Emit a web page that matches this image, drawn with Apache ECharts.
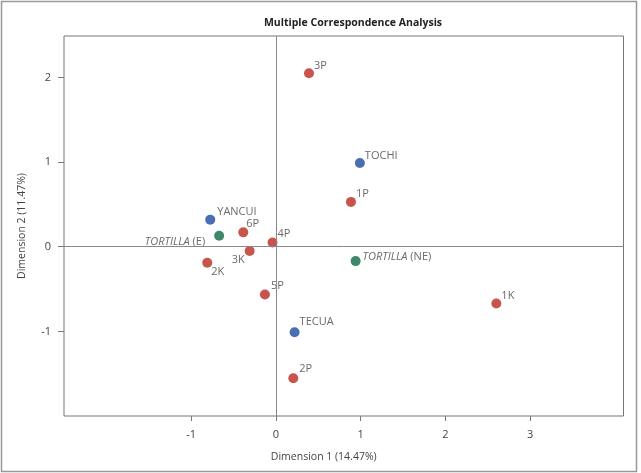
<!DOCTYPE html>
<html><head><meta charset="utf-8">
<script src="https://cdn.jsdelivr.net/npm/echarts@6/dist/echarts.min.js"></script>
<style>html,body{margin:0;padding:0;background:#fff}#c{width:641px;height:473px}</style>
</head><body><div id="c"></div>
<script>
const labels = ['3P','TOCHI','1P','YANCUI','6P','TORTILLA (E)','4P','3K','2K','TORTILLA (NE)','5P','TECUA','2P','1K'];
const dim1 = [0.39, 0.99, 0.885, -0.775, -0.385, -0.67, -0.04, -0.31, -0.81, 0.94, -0.13, 0.22, 0.205, 2.6];
const dim2 = [2.05, 0.99, 0.53, 0.32, 0.17, 0.13, 0.05, -0.05, -0.19, -0.17, -0.565, -1.01, -1.555, -0.67];
const groups = ['cat','loc','cat','loc','cat','tort','cat','cat','cat','tort','cat','loc','cat','cat'];
const xTicks = [-1, 0, 1, 2, 3];
const yTicks = [-1, 0, 1, 2];
const title = 'Multiple Correspondence Analysis';
const xName = 'Dimension 1 (14.47%)';
const yName = 'Dimension 2 (11.47%)';

const colors = {cat:'#ba2a1f', loc:'#1d4aa0', tort:'#0e6b46'};
const FONT = 'Open Sans';
const labelCfg = {
  '3P':{position:'right',offset:[0,-7]},
  'TOCHI':{position:'right',offset:[0,-7]},
  '1P':{position:'right',offset:[0,-8]},
  'YANCUI':{position:'right',offset:[2,-8]},
  '6P':{position:'right',offset:[-2,-8]},
  'TORTILLA (E)':{position:'left',distance:9,offset:[0,6]},
  '4P':{position:'right',offset:[0,-9]},
  '3K':{position:'left',offset:[0,9]},
  '2K':{position:'right',offset:[-1,9]},
  'TORTILLA (NE)':{position:'right',distance:2,offset:[0,-4]},
  '5P':{position:'right',offset:[1,-9]},
  'TECUA':{position:'right',offset:[0,-10]},
  '2P':{position:'right',offset:[1,-9]},
  '1K':{position:'right',offset:[0,-8]}
};
const data = labels.map((n,i)=>{
  const c = labelCfg[n];
  return {
    value:[dim1[i], dim2[i]], name:n,
    itemStyle:{color:colors[groups[i]]},
    label:{show:true, position:c.position, distance:c.distance||0, offset:c.offset,
      formatter: n.startsWith('TORTILLA') ? '{i|TORTILLA}' + n.slice(8) : n}
  };
});
const chart = echarts.init(document.getElementById('c'), null, {renderer:'canvas'});
chart.setOption({
  animation:false,
  backgroundColor:'#fff',
  title:{text:title, left:348, top:13, textAlign:'center',
    textStyle:{fontFamily:FONT, fontSize:10.5, fontWeight:'bold', color:'#222'}},
  graphic:[{type:'rect', shape:{x:1.5,y:1.5,width:635,height:470}, style:{fill:null, stroke:'#999', lineWidth:1.5}, silent:true}],
  grid:{left:64, top:36, right:17.5, bottom:57, show:true, borderColor:'#777', borderWidth:1},
  xAxis:{type:'value', min:-2.5, max:4.1, name:xName, nameLocation:'middle', nameGap:36,
    nameTextStyle:{fontFamily:FONT, fontSize:10.5, color:'#444', padding:[0,40,0,0]},
    axisLine:{show:false, onZero:false}, splitLine:{show:false},
    axisTick:{show:true, customValues:xTicks, length:5, lineStyle:{color:'#777'}},
    axisLabel:{customValues:xTicks, fontFamily:FONT, fontSize:11, color:'#444', margin:13}},
  yAxis:{type:'value', min:-2, max:2.49, name:yName, nameLocation:'middle', nameGap:36,
    nameTextStyle:{fontFamily:FONT, fontSize:10.5, color:'#444'},
    axisLine:{show:false, onZero:false}, splitLine:{show:false},
    axisTick:{show:true, customValues:yTicks, length:6, lineStyle:{color:'#777'}},
    axisLabel:{customValues:yTicks, fontFamily:FONT, fontSize:11, color:'#444', margin:13}},
  series:[{
    type:'scatter', symbolSize:10, data:data,
    label:{fontFamily:FONT, fontSize:11, color:'#444',
      rich:{i:{fontStyle:'italic', fontFamily:FONT, fontSize:11, color:'#444'}}},
    markLine:{silent:true, symbol:'none', label:{show:false},
      lineStyle:{color:'#888', type:'solid', width:1},
      data:[{xAxis:0},{yAxis:0}]},
    z:3
  }]
});
</script></body></html>
